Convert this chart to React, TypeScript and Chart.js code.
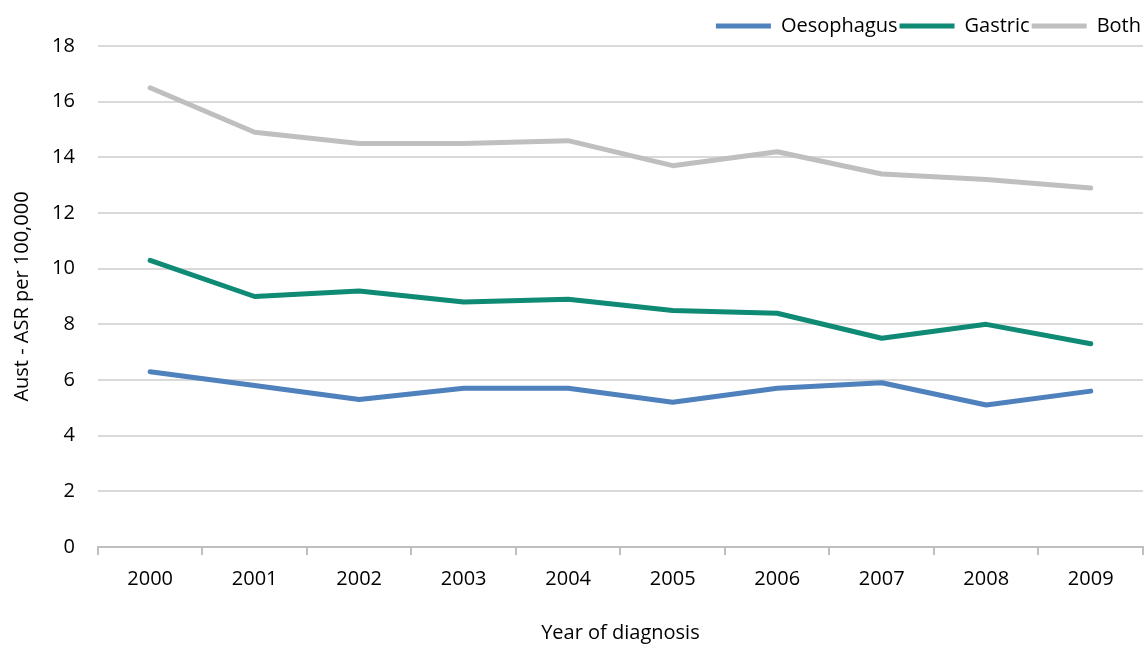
import React, { useEffect, useRef } from "react";
import { Chart, registerables } from "chart.js";

Chart.register(...registerables);

const years = ["2000", "2001", "2002", "2003", "2004", "2005", "2006", "2007", "2008", "2009"];
const oesophagus = [6.3, 5.8, 5.3, 5.7, 5.7, 5.2, 5.7, 5.9, 5.1, 5.6];
const gastric = [10.3, 9.0, 9.2, 8.8, 8.9, 8.5, 8.4, 7.5, 8.0, 7.3];
const both = [16.5, 14.9, 14.5, 14.5, 14.6, 13.7, 14.2, 13.4, 13.2, 12.9];
const seriesNames = ["Oesophagus", "Gastric", "Both"];
const seriesColors = ["#4F81BD", "#0E8A75", "#BFBFBF"];

const FONT = "'Open Sans', sans-serif";

export default function App() {
  const ref = useRef<HTMLCanvasElement | null>(null);
  useEffect(() => {
    if (!ref.current) return;
    const values = [oesophagus, gastric, both];
    const chart = new Chart(ref.current, {
      type: "line",
      data: {
        labels: years,
        datasets: seriesNames.map((name, i) => ({
          label: name,
          data: values[i],
          borderColor: seriesColors[i],
          backgroundColor: seriesColors[i],
          borderWidth: 5,
          borderCapStyle: "round" as const,
          borderJoinStyle: "round" as const,
          pointRadius: 0,
          tension: 0,
        })),
      },
      options: {
        animation: false,
        responsive: false,
        maintainAspectRatio: false,
        layout: { padding: { left: 10, right: 3, top: 14, bottom: 1 } },
        plugins: {
          legend: {
            position: "top",
            align: "end",
            labels: {
              usePointStyle: true,
              pointStyle: "line",
              pointStyleWidth: 55,
              padding: 2,
              color: "#000",
              font: { family: FONT, size: 20 },
            },
          },
          tooltip: { enabled: false },
        },
        scales: {
          x: {
            offset: true,
            grid: {
              offset: true,
              drawOnChartArea: false,
              drawTicks: true,
              tickLength: 8,
              color: "#BFBFBF",
              lineWidth: 2,
            },
            border: { display: true, color: "#BFBFBF", width: 2 },
            ticks: { color: "#000", font: { family: FONT, size: 20 }, padding: 12 },
            title: {
              display: true,
              text: "Year of diagnosis",
              color: "#000",
              font: { family: FONT, size: 20 },
              padding: { top: 18, bottom: 0 },
            },
          },
          y: {
            min: 0,
            max: 18,
            ticks: { stepSize: 2, color: "#000", font: { family: FONT, size: 20 }, padding: 23 },
            grid: { color: "#D9D9D9", lineWidth: 2, drawTicks: false },
            border: { display: false },
            title: {
              display: true,
              text: "Aust - ASR per 100,000",
              color: "#000",
              font: { family: FONT, size: 20 },
              padding: { top: 0, bottom: -5 },
            },
          },
        },
      },
    });
    return () => chart.destroy();
  }, []);
  return (
    <div style={{ position: "fixed", left: 0, top: 0, width: 1146, height: 646, background: "#fff" }}>
      <canvas ref={ref} width={1146} height={646} style={{ width: 1146, height: 646 }} />
    </div>
  );
}
